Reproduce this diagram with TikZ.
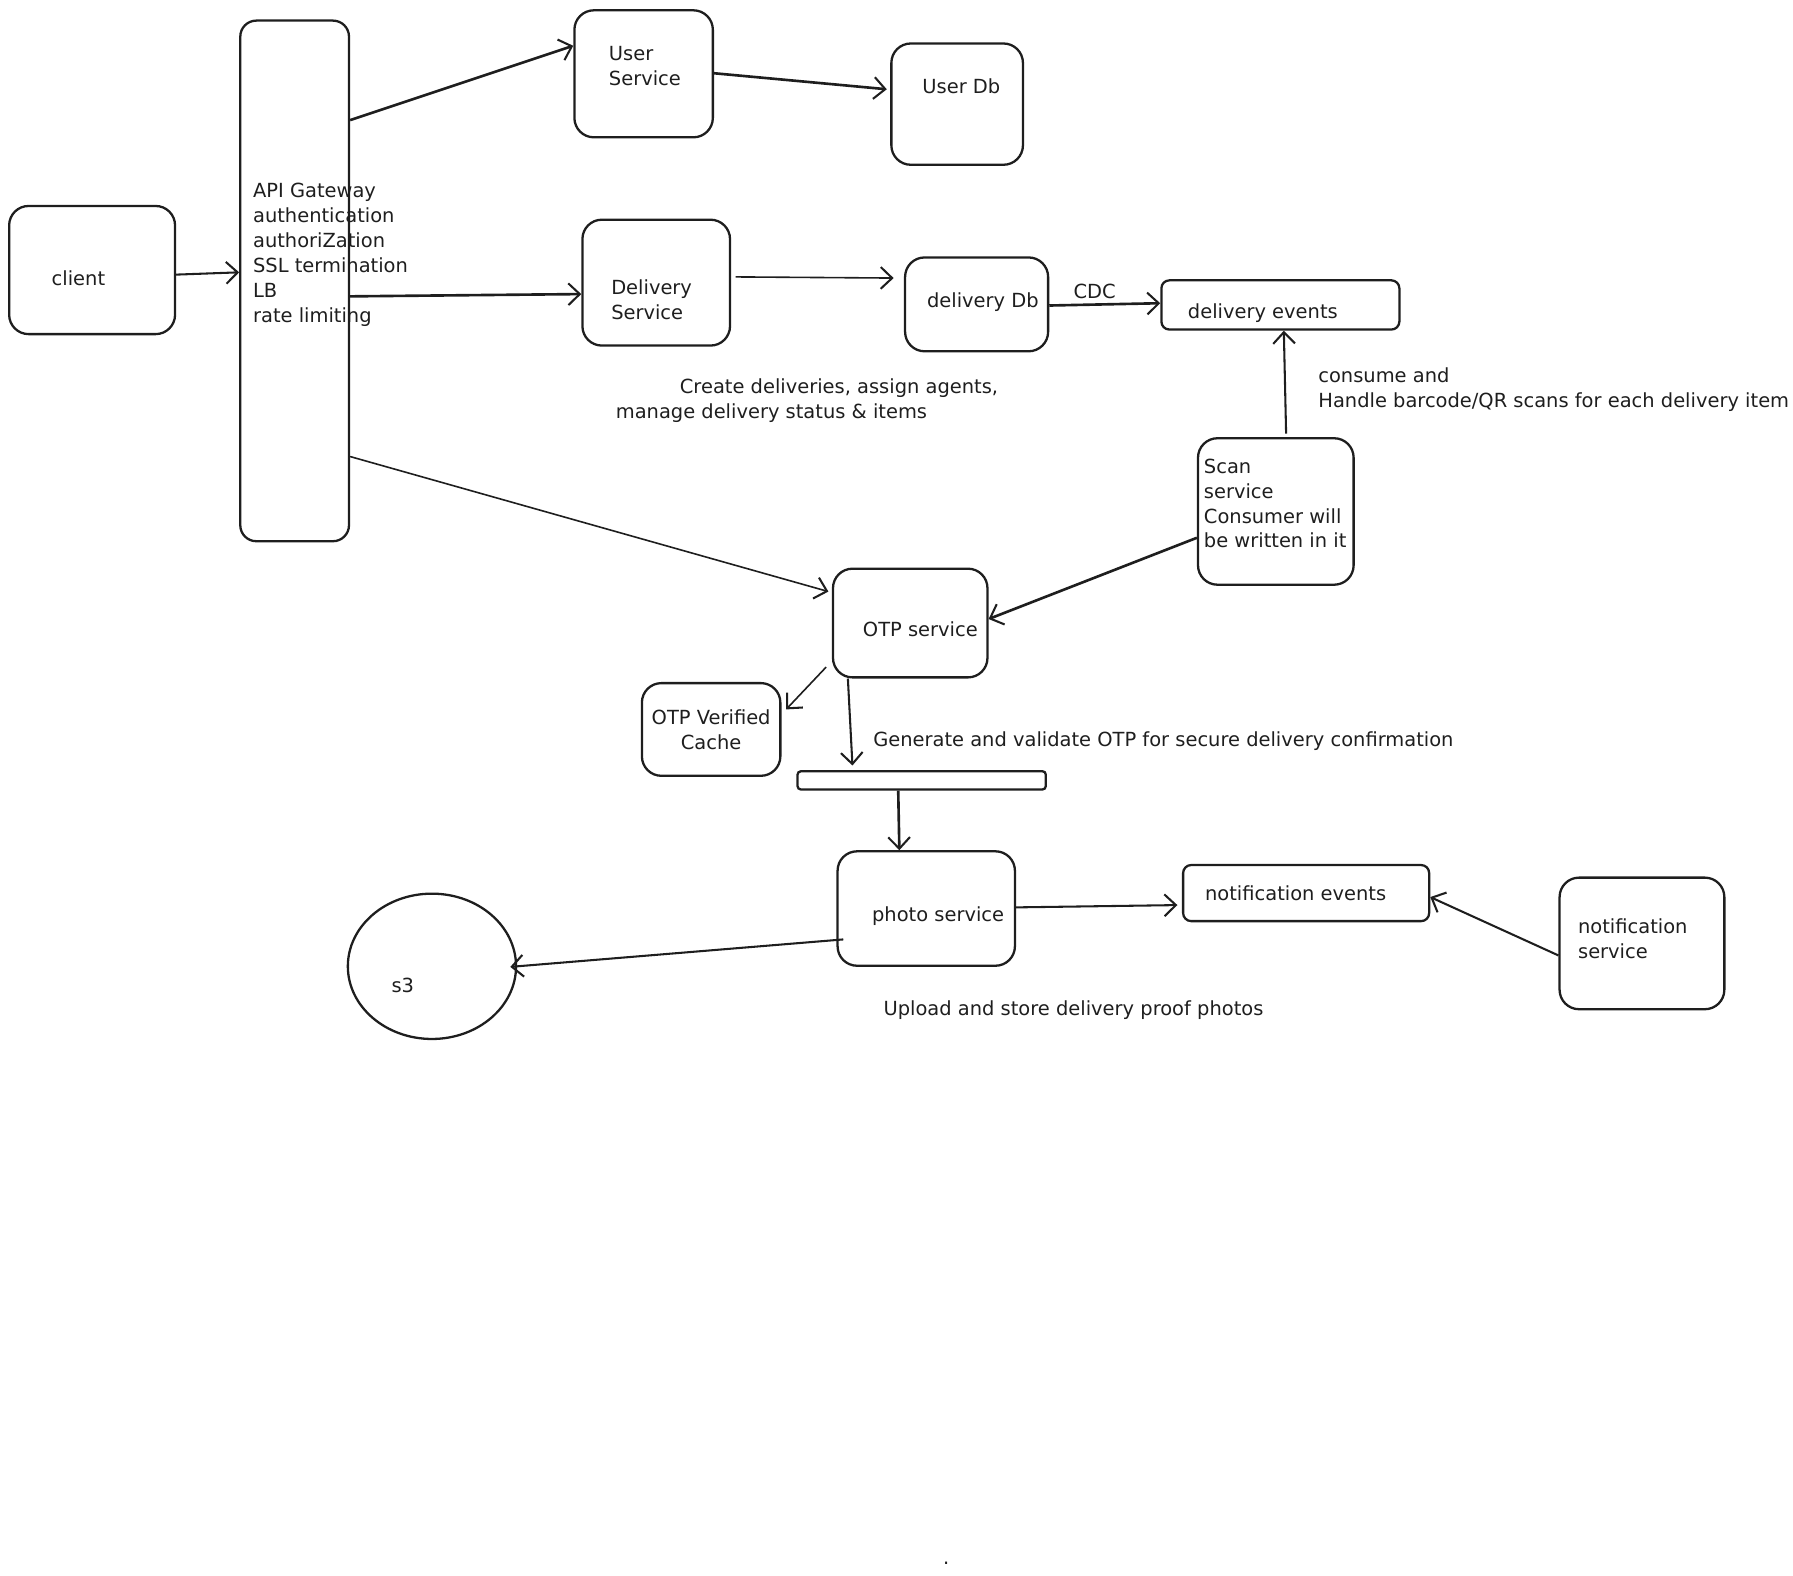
\documentclass[tikz,border=0pt]{standalone}
\usepackage{fontspec}
\setmainfont{DejaVu Sans}
\usetikzlibrary{arrows.meta,shapes.geometric,calc}
\definecolor{ink}{HTML}{1E1E1E}
\begin{document}
\begin{tikzpicture}[x=1pt,y=-1pt,
  every node/.style={font=\fontsize{17}{21.8}\selectfont, text=ink},
  box/.style={draw=ink, line width=2pt, rounded corners=17pt, inner sep=0pt},
  flat/.style={box, rounded corners=7pt},
  conn/.style={draw=ink, line width=1.8pt, -{Straight Barb[length=10pt,width=19pt,line width=1.8pt]}},
  thickc/.style={conn, line width=2.3pt},
  thinc/.style={conn, line width=1.4pt},
  txt/.style={inner sep=0pt, anchor=west, align=left},
]
\useasboundingbox (0,0) rectangle (1567,1377);

% boxes
\node[box, minimum width=145pt, minimum height=112pt] (client) at (80.5,236) {};
\node[box, rounded corners=14pt, minimum width=95pt, minimum height=455pt] (gw) at (257.5,245.5) {};
\node[box, minimum width=121pt, minimum height=111pt] (us) at (562.5,64.5) {};
\node[box, minimum width=115pt, minimum height=106pt] (udb) at (836.5,91) {};
\node[box, minimum width=129pt, minimum height=110pt] (ds) at (573.5,247) {};
\node[box, minimum width=125pt, minimum height=82pt] (ddb) at (853.5,266) {};
\node[flat, minimum width=208pt, minimum height=43pt] (de) at (1119,266.5) {};
\node[box, minimum width=136pt, minimum height=128pt] (scan) at (1115,447) {};
\node[box, minimum width=135pt, minimum height=95pt] (otp) at (795.5,544.5) {};
\node[box, minimum width=121pt, minimum height=81pt, align=center] (cache) at (621.5,637.5) {OTP Verified\\Cache};
\node[box, rounded corners=3pt, minimum width=217pt, minimum height=16pt] (bar) at (805.5,682) {};
\node[box, minimum width=155pt, minimum height=100pt] (photo) at (809.5,794) {};
\node[draw=ink, line width=2pt, ellipse, inner sep=0pt, minimum width=147pt, minimum height=127pt] (s3) at (377.5,844.5) {};
\node[flat, minimum width=215pt, minimum height=49pt] (ne) at (1141.5,780.5) {};
\node[box, minimum width=144pt, minimum height=115pt] (ns) at (1435,824.5) {};

% texts
\node[txt] (tclient) at (45,243) {client};
\node[txt] (tgw) at (221,222.5) {API Gateway\\authentication\\authoriZation\\SSL termination\\LB\\rate limiting};
\node[txt] (tus) at (532,58) {User\\Service};
\node[txt] (tudb) at (806,75) {User Db};
\node[txt] (tds) at (534,262) {Delivery\\Service};
\node[txt] (tddb) at (810,264) {delivery Db};
\node[txt] (tde) at (1038,274) {delivery events};
\node[txt] (cdc) at (938,255) {CDC};
\node[txt] (create1) at (594,339) {Create deliveries, assign agents,};
\node[txt] (create2) at (538,361) {manage delivery status \& items};
\node[txt] (consume) at (1152,340.5) {consume and\\Handle barcode/QR scans for each delivery item};
\node[txt] (tscan) at (1052,440) {Scan\\service\\Consumer will\\be written in it};
\node[txt] (totp) at (754,550) {OTP service};
\node[txt] (gen) at (763,648) {Generate and validate OTP for secure delivery confirmation};
\node[txt] (tphoto) at (762,801) {photo service};
\node[txt] (ts3) at (342,861) {s3};
\node[txt] (tne) at (1053,781) {notification events};
\node[txt] (tns) at (1379,820) {notification\\service};
\node[txt] (upload) at (772,883) {Upload and store delivery proof photos};
\node[txt] (dot) at (824,1366) {.};

% connectors
\draw[conn] (client.east |- 0,240) -- (gw.west |- 0,238);
\draw[thickc] (gw.east |- 0,105) -- (us.west |- 0,40);
\draw[thickc] (us.east |- 0,64) -- ($(udb.west |- 0,78)+(-3,0)$);
\draw[thickc] (gw.east |- 0,259) -- (ds.west |- 0,257);
\draw[thinc] ($(ds.east |- 0,242)+(4,0)$) -- ($(ddb.west |- 0,243)+(-9,0)$);
\draw[thickc] (ddb.east |- 0,267) -- (de.west |- 0,265);
\draw[conn] ($(scan.north -| 1124,0)+(0,-3)$) -- (de.south -| 1122,0);
\draw[thinc] (gw.east |- 0,399) -- ($(otp.west |- 0,517)+(-3,0)$);
\draw[thickc] (scan.west |- 0,470) -- (otp.east |- 0,541);
\draw[thinc] ($(otp.west |- 0,583)+(-5,0)$) -- ($(cache.east |- 0,620)+(4,0)$);
\draw[conn] (otp.south -| 741,0) -- ($(bar.north -| 745,0)+(0,-4)$);
\draw[thickc] (bar.south -| 785,0) -- (photo.north -| 786,0);
\draw[conn] ($(photo.west |- 0,821)+(6,0)$) -- ($(s3.east |- 0,845)+(-6,0)$);
\draw[conn] (photo.east |- 0,793) -- ($(ne.west |- 0,791)+(-4,0)$);
\draw[conn] (ns.west |- 0,835) -- (ne.east |- 0,784);
\end{tikzpicture}
\end{document}
